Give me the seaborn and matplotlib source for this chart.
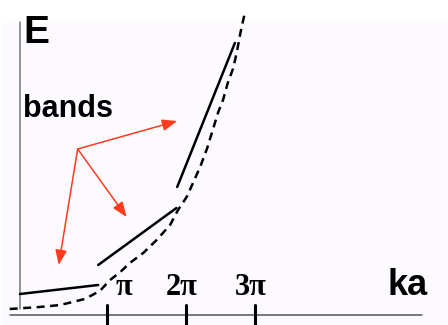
import matplotlib.pyplot as plt
import seaborn as sns
import pandas as pd
from matplotlib.patches import Rectangle

# free-electron parabola (dashed), ka in units of pi-ish, E arbitrary
free_k = [-0.13, 0.25, 0.51, 0.82, 1.01, 1.14, 1.27, 1.39, 1.56, 1.73, 1.90, 2.00,
          2.11, 2.19, 2.29, 2.37, 2.44, 2.51, 2.57, 2.63, 2.70, 2.75, 2.79, 2.84]
free_E = [0.01, 0.03, 0.05, 0.11, 0.19, 0.30, 0.38, 0.47, 0.57, 0.70, 0.85, 1.00,
          1.13, 1.27, 1.45, 1.62, 1.80, 1.98, 2.10, 2.27, 2.42, 2.60, 2.77, 2.95]

# allowed bands (solid segments)
band_id = [1, 1, 2, 2, 3, 3]
band_k = [0.00, 0.99, 0.99, 1.98, 1.99, 2.72]
band_E = [0.16, 0.25, 0.45, 1.02, 1.23, 2.67]

# "bands" label arrows
arrow_from = (0.73, 1.61)
arrow_to_k = [1.99, 1.35, 0.49]
arrow_to_E = [1.89, 0.93, 0.45]

tick_pos = [1.10, 2.10, 2.97]
tick_labels = ["π", "2π", "3π"]
label_pos = [1.32, 2.05, 2.92]

sns.set_style("white")
fig = plt.figure(figsize=(4.48, 3.25), dpi=100, facecolor="white")
ax = fig.add_axes([0, 0, 1, 1])
ax.set_xlim(-0.253, 5.418)
ax.set_ylim(-0.15, 3.10)
ax.axis("off")
ax.add_patch(Rectangle((0.007, 0), 0.993, 302 / 325, transform=ax.transAxes,
                       facecolor="#FCFAFE", edgecolor="none", zorder=0))

free = pd.DataFrame({"k": free_k, "E": free_E})
sns.lineplot(data=free, x="k", y="E", sort=False, ax=ax, color="black",
             linewidth=1.8, dashes=False, clip_on=False, zorder=3)
ax.lines[-1].set_dashes([3.2, 2.2])

bands = pd.DataFrame({"band": band_id, "k": band_k, "E": band_E})
for b, grp in bands.groupby("band"):
    sns.lineplot(data=grp, x="k", y="E", sort=False, ax=ax, color="black",
                 linewidth=1.8, zorder=3)

# axes
ax.plot([0, 0], [0.01, 2.88], color="#777777", linewidth=1.1, zorder=2)
ax.plot([-0.127, 5.09], [-0.05, -0.05], color="#555555", linewidth=1.1, zorder=2)
for t in tick_pos:
    ax.plot([t, t], [0.05, -0.15], color="black", linewidth=2.2, clip_on=False, zorder=2)
for p, lab in zip(label_pos, tick_labels):
    ax.text(p, 0.15, lab, ha="center", va="baseline", fontsize=22, color="black",
            fontweight="bold", family="Liberation Serif")

for k, e in zip(arrow_to_k, arrow_to_E):
    ax.annotate("", xy=(k, e), xytext=arrow_from,
                arrowprops=dict(arrowstyle="-|>,head_length=0.9,head_width=0.35",
                                color="#FF3B1E", lw=1.1, shrinkA=0, shrinkB=0))

ax.text(0.038, 2.95, "E", ha="left", va="top", fontsize=28, fontweight="bold",
        color="black", family="Liberation Sans")
ax.text(0.038, 1.93, "bands", ha="left", va="baseline", fontsize=22,
        fontweight="bold", color="black", family="Liberation Sans")
ax.text(4.646, 0.15, "ka", ha="left", va="baseline", fontsize=26,
        fontweight="bold", color="black", family="Liberation Sans")

plt.savefig("out.png", dpi=100, facecolor=fig.get_facecolor())
plt.close(fig)
